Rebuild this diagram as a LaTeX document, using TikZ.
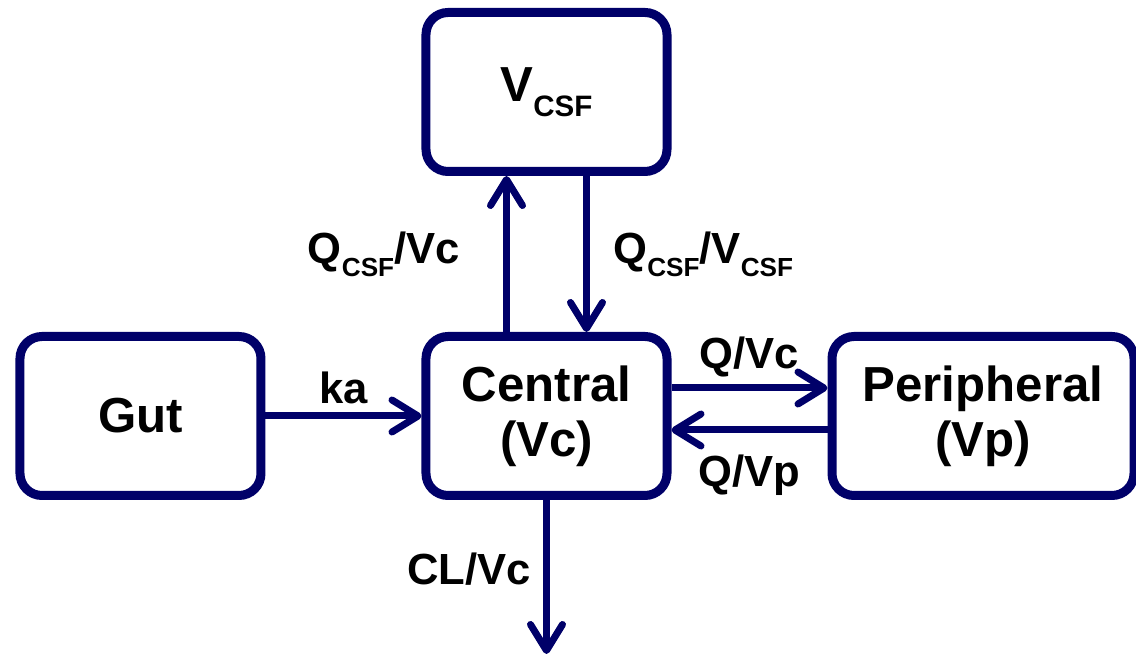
\documentclass[tikz,border=0pt]{standalone}
\usepackage{graphicx}
\usepackage{fontspec}
\setmainfont{Liberation Sans}
\usepackage{tikz}
\usetikzlibrary{positioning,arrows.meta}

\definecolor{pknavy}{RGB}{0,0,105}
\newcommand{\lowtext}[1]{\raisebox{-.3em}{\scalebox{0.6}{#1}}}

\begin{document}
\begin{tikzpicture}[
  node distance=3.9cm,
  box/.style={draw=pknavy, line width=0.225cm, rounded corners=0.55cm,
              align=center, minimum width=6.025cm, minimum height=3.975cm,
              font=\bfseries\fontsize{35}{39}\selectfont},
  lbl/.style={inner sep=1pt, font=\bfseries\fontsize{31}{35}\selectfont},
  flow/.style={draw=pknavy, line width=0.175cm,
               -{Straight Barb[length=0.65cm,width=0.8cm,round]}}
]
\useasboundingbox (-13.6625,-6.0) rectangle (14.7375,10.4);

\node[box] (central) {Central\\(Vc)};
\node[box, above=of central] (vcsf) {V\lowtext{CSF}};
\node[box, left=of central] (gut) {Gut};
\node[box, right=of central, minimum width=7.55cm] (periph) {Peripheral\\(Vp)};
\coordinate[below=3.85cm of central] (elim);

\draw[flow] (gut) -- node[lbl, above=0.17cm]{ka} (central);
\draw[flow] ([xshift=-1cm]central.north) --
  node[lbl, left=1.05cm]{Q\lowtext{CSF}/Vc} ([xshift=-1cm]vcsf.south);
\draw[flow] ([xshift=1cm]vcsf.south) --
  node[lbl, right=0.55cm]{Q\lowtext{CSF}/V\lowtext{CSF}} ([xshift=1cm]central.north);
\draw[flow] ([yshift=0.7cm]central.east) --
  node[lbl, above=0.15cm]{Q/Vc} ([yshift=0.7cm]periph.west);
\draw[flow] ([yshift=-0.35cm]periph.west) --
  node[lbl, below=0.5cm]{Q/Vp} ([yshift=-0.35cm]central.east);
\draw[flow] (central) -- node[lbl, left=0.27cm, pos=0.45]{CL/Vc} (elim);
\end{tikzpicture}
\end{document}
